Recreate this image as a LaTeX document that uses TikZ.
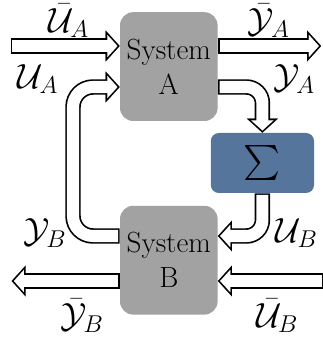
\documentclass[tikz,border=0pt]{standalone}
\usepackage{amsmath}
\usetikzlibrary{arrows.meta}

\definecolor{sysgray}{RGB}{162,162,162}
\definecolor{sigblue}{RGB}{86,117,156}

\tikzset{
  sysbox/.style={fill=sysgray, rounded corners=0.33cm, minimum width=2.44cm,
    minimum height=2.72cm, align=center, font=\huge, inner sep=0pt},
  sigbox/.style={fill=sigblue, rounded corners=0.2cm, minimum width=2.58cm,
    minimum height=1.5cm, inner sep=0pt},
  % hollow fat arrow: black body, white inside
  flow/.style={black, line width=11pt, shorten >=7pt,
    postaction={draw, black, line width=.1pt, shorten >=0pt,
      -{Triangle[length=10pt,width=22pt]}},
    postaction={draw, white, line width=8.6pt, shorten <=1.2pt, shorten >=7pt},
    postaction={draw, white, line width=.1pt, shorten <=1.2pt, shorten >=1.62pt,
      -{Triangle[length=7.18pt,width=15.8pt]}}},
  lbl/.style={font=\fontsize{24}{28}\selectfont, inner sep=0pt}
}

\begin{document}
\begin{tikzpicture}
  \useasboundingbox (0,0) rectangle (8.05,8.575);

  \node[sysbox] (A) at (4.22,6.91) {System\\A};
  \node[sysbox] (B) at (4.22,2.07) {System\\B};
  \node[sigbox] (Sig) at (6.56,4.5) {\fontsize{23}{28}\selectfont$\sum$};

  \coordinate (uAsrc) at (0.27,7.425);
  \coordinate (yAout) at (8.03,7.425);
  \coordinate (yBout) at (0.29,1.55);
  \coordinate (uBsrc) at (8.1,1.55);
  \coordinate (uAbend) at (1.825,6.4);
  \coordinate (yBbend) at (1.825,2.675);

  % external in/outputs
  \draw[flow] (uAsrc) -- (uAsrc -| A.west);
  \draw[flow] (A.east |- yAout) -- (yAout);
  \draw[flow] (uBsrc) -- (uBsrc -| B.east);
  \draw[flow] (B.west |- yBout) -- (yBout);

  % interconnection
  \draw[flow, rounded corners=0.5cm] (B.west |- yBbend) -- (yBbend) -- (uAbend) -- (A.west |- uAbend);
  \draw[flow, rounded corners=0.4cm] (A.east |- uAbend) -| (Sig.north);
  \draw[flow, rounded corners=0.4cm] (Sig.south) |- (B.east |- yBbend);

  \node[lbl] (luAbar) at (1.72,8.05) {$\bar{\mathcal{U}}_A$};
  \node[lbl] (lyAbar) at (6.72,8.05) {$\bar{\mathcal{Y}}_A$};
  \node[lbl] (luA) at (0.95,6.6) {$\mathcal{U}_A$};
  \node[lbl] (lyA) at (7.35,6.6) {$\mathcal{Y}_A$};
  \node[lbl] (lyB) at (1.12,2.75) {$\mathcal{Y}_B$};
  \node[lbl] (luB) at (7.42,2.75) {$\mathcal{U}_B$};
  \node[lbl] (lyBbar) at (2.05,0.68) {$\bar{\mathcal{Y}}_B$};
  \node[lbl] (luBbar) at (6.93,0.68) {$\bar{\mathcal{U}}_B$};
\end{tikzpicture}
\end{document}
